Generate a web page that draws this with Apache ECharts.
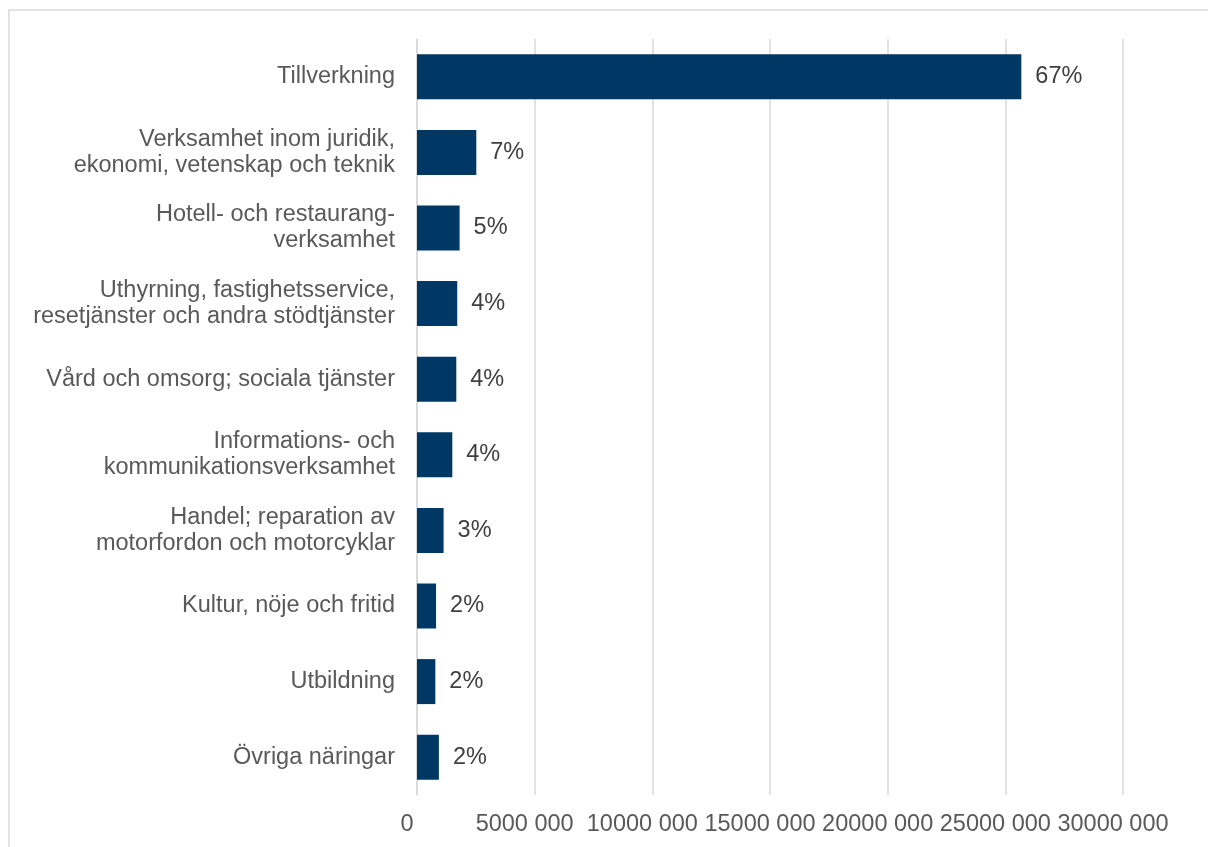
<!DOCTYPE html>
<html>
<head>
<meta charset="utf-8">
<style>
  html, body { margin: 0; padding: 0; background: #ffffff; }
  #chart { width: 1208px; height: 847px; }
</style>
<script src="https://cdn.jsdelivr.net/npm/echarts@6/dist/echarts.min.js"></script>
</head>
<body>
<div id="chart"></div>
<script>
const categories = [
  'Tillverkning',
  'Verksamhet inom juridik,\nekonomi, vetenskap och teknik',
  'Hotell- och restaurang-\nverksamhet',
  'Uthyrning, fastighetsservice,\nresetjänster och andra stödtjänster',
  'Vård och omsorg; sociala tjänster',
  'Informations- och\nkommunikationsverksamhet',
  'Handel; reparation av\nmotorfordon och motorcyklar',
  'Kultur, nöje och fritid',
  'Utbildning',
  'Övriga näringar'
];
const values = [25680000, 2520000, 1810000, 1710000, 1670000, 1500000, 1130000, 810000, 780000, 930000];
const shareLabels = ['67%', '7%', '5%', '4%', '4%', '4%', '3%', '2%', '2%', '2%'];
const tickLabels = ['0', '5000 000', '10000 000', '15000 000', '20000 000', '25000 000', '30000 000'];

const FONT = '"Liberation Sans", Arial, sans-serif';
const chart = echarts.init(document.getElementById('chart'), null, { renderer: 'canvas' });
chart.setOption({
  animation: false,
  backgroundColor: '#ffffff',
  graphic: [{
    type: 'rect',
    shape: { x: 9, y: 10, width: 1400, height: 1000 },
    style: { fill: 'none', stroke: '#d9d9d9', lineWidth: 1.5 },
    silent: true
  }],
  grid: { left: 417, right: 85, top: 39, bottom: 52, containLabel: false },
  xAxis: {
    type: 'value',
    min: 0,
    max: 30000000,
    interval: 5000000,
    axisLine: { show: false },
    axisTick: { show: false },
    splitLine: { show: true, lineStyle: { color: '#d9d9d9', width: 1.5 } },
    axisLabel: {
      margin: 18,
      color: '#595959',
      fontFamily: FONT,
      fontSize: 23.5,
      padding: [0, 20, 0, 0],
      formatter: function (v) { return tickLabels[Math.round(v / 5000000)]; }
    }
  },
  yAxis: {
    type: 'category',
    inverse: true,
    data: categories,
    axisLine: { show: true, lineStyle: { color: '#d9d9d9', width: 1.5 } },
    axisTick: { show: false },
    axisLabel: {
      margin: 22,
      color: '#595959',
      fontFamily: FONT,
      fontSize: 23.5,
      lineHeight: 26,
      align: 'right',
      padding: [5, 0, 0, 0]
    }
  },
  series: [{
    type: 'bar',
    data: values,
    barWidth: 45,
    itemStyle: { color: '#003865' },
    label: {
      show: true,
      position: 'right',
      distance: 14,
      color: '#404040',
      fontFamily: FONT,
      fontSize: 23.5,
      padding: [4, 0, 0, 0],
      formatter: function (p) { return shareLabels[p.dataIndex]; }
    }
  }]
});
</script>
</body>
</html>
